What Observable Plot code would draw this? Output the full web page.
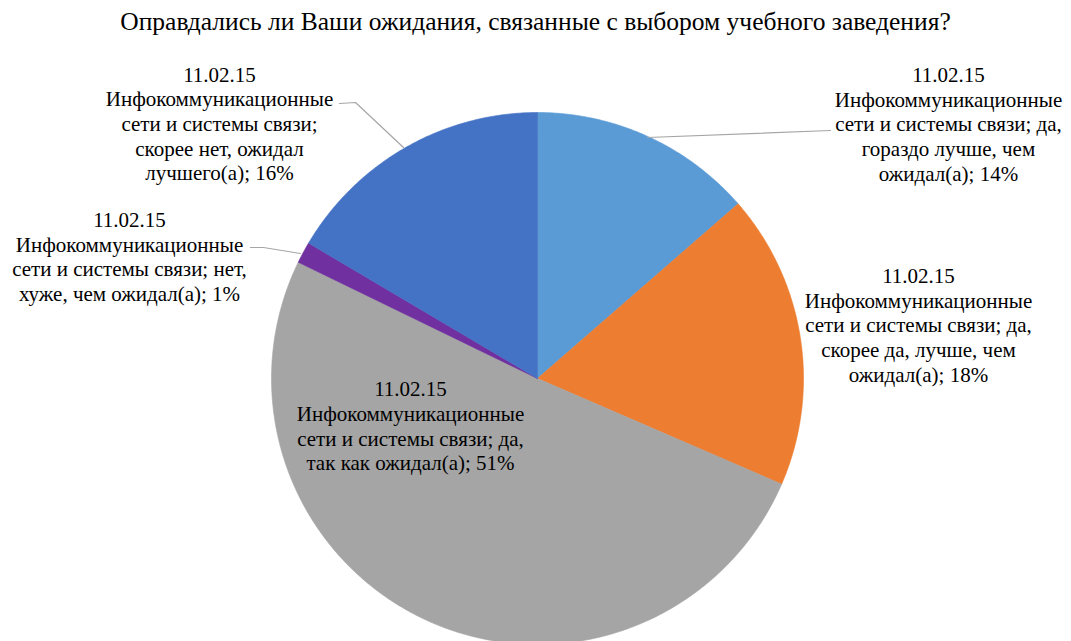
<!DOCTYPE html>
<html>
<head>
<meta charset="utf-8">
<script src="https://cdn.jsdelivr.net/npm/d3@7"></script>
<script src="https://cdn.jsdelivr.net/npm/@observablehq/plot@0.6"></script>
<style>
  body { margin: 0; background: #fff; }
  #chart svg { display: block; }
</style>
</head>
<body>
<div id="title" style="height:44px;font-family:'Liberation Serif';font-size:25.5px;text-align:center;line-height:44px;color:#000;width:1071px;white-space:nowrap;">Оправдались ли Ваши ожидания, связанные с выбором учебного заведения?</div>
<div id="chart"></div>
<script>
const specialty = "11.02.15";
const categories = [
  "да, гораздо лучше, чем ожидал(а)",
  "да, скорее да, лучше, чем ожидал(а)",
  "да, так как ожидал(а)",
  "нет, хуже, чем ожидал(а)",
  "скорее нет, ожидал лучшего(а)"
];
const shares = [13.6, 17.9, 50.7, 1.3, 16.5];
const percentLabels = ["14%", "18%", "51%", "1%", "16%"];
const colors = ["#5B9BD5", "#ED7D31", "#A5A5A5", "#7030A0", "#4472C4"];
const labelLines = [
  ["11.02.15", "Инфокоммуникационные", "сети и системы связи; да,", "гораздо лучше, чем", "ожидал(а); 14%"],
  ["11.02.15", "Инфокоммуникационные", "сети и системы связи; да,", "скорее да, лучше, чем", "ожидал(а); 18%"],
  ["11.02.15", "Инфокоммуникационные", "сети и системы связи; да,", "так как ожидал(а); 51%"],
  ["11.02.15", "Инфокоммуникационные", "сети и системы связи; нет,", "хуже, чем ожидал(а); 1%"],
  ["11.02.15", "Инфокоммуникационные", "сети и системы связи;", "скорее нет, ожидал", "лучшего(а); 16%"]
];

// layout (page pixels)
const W = 1071, H = 641, TOP = 44;
const cx = 537, cy = 378 - TOP, R = 266;
const labelPos = [
  {x: 948, y: 123}, {x: 918, y: 324}, {x: 410, y: 425}, {x: 129, y: 255.5}, {x: 219, y: 122.5}
];
const leaderPts = [
  [[830, 130], [647, 137]],
  null,
  null,
  [[250, 247], [263, 247], [300, 253]],
  [[339, 103], [355, 102], [403, 147]]
];

const data = categories.map((c, i) => ({category: c, value: shares[i], color: colors[i], i}));
const arcs = d3.pie().sort(null).value(d => d.value)(data);

const poly = [];
arcs.forEach(a => {
  const n = Math.max(4, Math.ceil((a.endAngle - a.startAngle) / (Math.PI / 360)));
  poly.push({i: a.data.i, color: a.data.color, x: cx, y: cy});
  for (let k = 0; k <= n; k++) {
    const t = a.startAngle + (a.endAngle - a.startAngle) * k / n;
    poly.push({i: a.data.i, color: a.data.color, x: cx + R * Math.sin(t), y: cy - R * Math.cos(t)});
  }
  poly.push({i: a.data.i, color: a.data.color, x: cx, y: cy});
});

const labels = data.map((d, i) => ({
  text: labelLines[i].join("\n"),
  x: labelPos[i].x, y: labelPos[i].y - TOP
}));

const leaders = [];
leaderPts.forEach((pts, i) => {
  if (!pts) return;
  pts.forEach(p => leaders.push({i, x: p[0], y: p[1] - TOP}));
});

const chart = Plot.plot({
  width: W, height: H - TOP,
  margin: 0,
  x: {type: "identity", axis: null},
  y: {type: "identity", axis: null},
  style: "background:#fff;font-family:'Liberation Serif';",
  marks: [
    Plot.line(poly, {x: "x", y: "y", z: "i", fill: "color", stroke: "color", strokeWidth: 0.6, curve: "linear"}),
    Plot.line(leaders, {x: "x", y: "y", z: "i", stroke: "#A6A6A6", strokeWidth: 1.2}),
    Plot.text(labels, {x: "x", y: "y", text: "text", fontFamily: "Liberation Serif", fontSize: 21, lineHeight: 1.176, lineAnchor: "middle", textAnchor: "middle", fill: "#000"})
  ]
});
document.getElementById("chart").appendChild(chart);
</script>
</body>
</html>
